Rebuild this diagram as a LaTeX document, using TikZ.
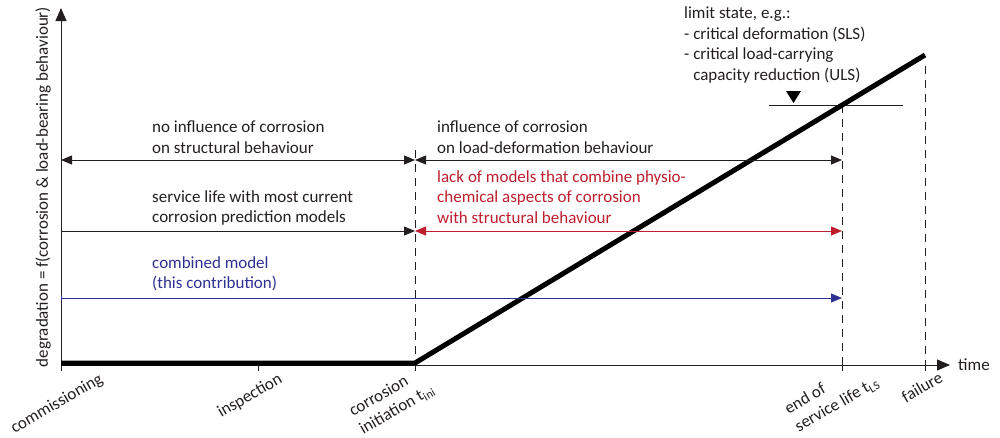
\documentclass[tikz,border=0pt]{standalone}
\usepackage{fontspec}
\setmainfont{Carlito}
\usetikzlibrary{arrows.meta}
\definecolor{ink}{RGB}{35,31,32}
\definecolor{redc}{RGB}{190,30,45}
\definecolor{bluec}{RGB}{46,49,146}
\begin{document}
\begin{tikzpicture}[x=1pt,y=-1pt,
  every node/.style={inner sep=0pt,font=\fontsize{17}{20.5}\selectfont,text=ink},
  txt/.style={anchor=west,align=left},
  axisline/.style={draw=ink,line width=0.9pt,-{Triangle[length=13pt,width=11pt]}},
  dimline/.style={draw=ink,line width=0.8pt},
  dashedline/.style={draw=ink,line width=0.8pt,dash pattern=on 8pt off 6pt},
  tickline/.style={draw=ink,line width=0.8pt},
  degline/.style={draw=black,line width=5pt,line join=miter},
  rlabel/.style={rotate=30,align=left}
]
\useasboundingbox (0,0) rectangle (1000,437);
% key coordinates
\coordinate (O) at (61,365);
\coordinate (Ytop) at (61,8);
\coordinate (Xend) at (950,365);
\coordinate (ini) at (415,365);
\coordinate (lsb) at (842,365);
\coordinate (fb) at (925,365);
\coordinate (insp) at (258,365);
\coordinate (D0) at (61,363);
\coordinate (D1) at (415,363);
\coordinate (D2) at (925,55);
\coordinate (inidash) at (415,150);
\coordinate (lsdash) at (842,105);
\coordinate (fdash) at (925,66);
\coordinate (limL) at (769,105);
\coordinate (limR) at (903,105);
% axes
\draw[axisline] (O) -- (Ytop);
\draw[axisline] (O) -- (Xend);
\node[anchor=west] (time) at (958,365) {time};
% ticks
\foreach \c in {O,insp,ini,lsb,fb} \draw[tickline] (\c) -- ++(0,6);
% dashed verticals
\draw[dashedline] (inidash) -- (ini);
\draw[dashedline] (lsdash) -- (lsb);
\draw[dashedline] (fdash) -- (fb);
% limit line and triangle
\draw[tickline] (limL) -- (limR);
\fill[black] (786,91) -- (801,91) -- (793.5,103) -- cycle;
% degradation curve
\draw[degline] (D0) -- (D1) -- (D2);
% row 1
\coordinate (r1a) at (61,160);
\coordinate (r1b) at (415,160);
\coordinate (r1c) at (842,160);
\draw[dimline,{Triangle[length=11pt,width=9pt]}-{Triangle[length=11pt,width=9pt]}] (r1a) -- (r1b);
\draw[dimline,{Triangle[length=11pt,width=9pt]}-{Triangle[length=11pt,width=9pt]}] (r1b) -- (r1c);
% row 2
\coordinate (r2a) at (61,231);
\coordinate (r2b) at (415,231);
\coordinate (r2c) at (842,231);
\draw[dimline,{Bar[width=6pt]}-{Triangle[length=11pt,width=9pt]}] (r2a) -- (r2b);
\draw[draw=redc,line width=0.8pt,{Triangle[length=11pt,width=9pt]}-{Triangle[length=11pt,width=9pt]},redc] (r2b) -- (r2c);
% row 3
\coordinate (r3a) at (61,298);
\coordinate (r3c) at (842,298);
\draw[draw=bluec,line width=0.8pt,{Bar[width=6pt]}-{Triangle[length=11pt,width=9pt]},bluec] (r3a) -- (r3c);
% texts
\node[txt] (t1) at (152,137) {no influence of corrosion\\on structural behaviour};
\node[txt] (t2) at (437,137) {influence of corrosion\\on load-deformation behaviour};
\node[txt] (t3) at (152,208) {service life with most current\\corrosion prediction models};
\node[txt,text=redc] (t4) at (437,197) {lack of models that combine physio-\\chemical aspects of corrosion\\with structural behaviour};
\node[txt,text=bluec] (t5) at (152,274) {combined model\\(this contribution)};
\node[txt] (t6) at (684,45) {limit state, e.g.:\\- critical deformation (SLS)\\- critical load-carrying\\\phantom{- }capacity reduction (ULS)};
\node[rotate=90] (ylab) at (43,187) {degradation = f(corrosion \& load-bearing behaviour)};
% bottom labels
\node[rlabel] (l1) at (57,404) {commissioning};
\node[rlabel] (l2) at (250,396) {inspection};
\node[rlabel] (l3) at (392,401) {corrosion\\initiation t\textsubscript{ini}};
\node[rlabel] (l4) at (832,396) {end of\\service life t\textsubscript{LS}};
\node[rlabel] (l5) at (922,387) {failure};
\end{tikzpicture}
\end{document}
